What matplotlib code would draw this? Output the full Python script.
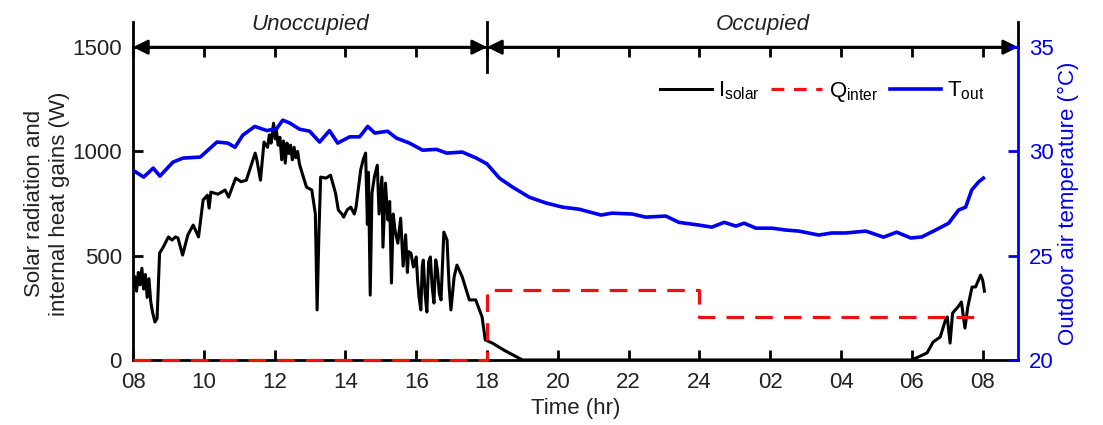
import numpy as np
import matplotlib.pyplot as plt
from matplotlib.lines import Line2D

plt.rcParams['font.family'] = ['Liberation Sans', 'DejaVu Sans']
plt.rcParams['mathtext.fontset'] = 'custom'
plt.rcParams['mathtext.rm'] = 'Liberation Sans'

# hours since 08:00 of day 1 (08 -> 8, next-day 08 -> 32)
solar_hr = [8.00, 8.05, 8.10, 8.15, 8.20, 8.25, 8.30, 8.35, 8.40, 8.45, 8.50, 8.55, 8.62, 8.68,
            8.75, 8.85, 9.00, 9.10, 9.20, 9.27, 9.40, 9.55, 9.70, 9.85, 9.98, 10.10, 10.15, 10.20,
            10.40, 10.60, 10.70, 10.90, 11.05, 11.20, 11.35, 11.45, 11.50, 11.60, 11.70, 11.80,
            11.85, 11.90, 11.97, 12.02, 12.05, 12.10, 12.15, 12.20, 12.25, 12.30, 12.35, 12.40,
            12.45, 12.50, 12.55, 12.60, 12.65, 12.70, 12.77,
            12.90, 13.05, 13.15, 13.20, 13.25, 13.30, 13.45, 13.58, 13.72, 13.80, 13.90, 13.95,
            14.05, 14.15, 14.25, 14.30, 14.43, 14.50, 14.57, 14.62, 14.65, 14.70, 14.75, 14.82,
            14.90, 14.95, 15.03, 15.06, 15.13, 15.20, 15.25, 15.30, 15.35, 15.40, 15.48, 15.56,
            15.63, 15.70, 15.75, 15.78, 15.85, 15.92, 16.00, 16.04, 16.08, 16.13, 16.17, 16.20,
            16.25, 16.30, 16.35, 16.40, 16.45, 16.50, 16.55, 16.60, 16.65, 16.70, 16.78, 16.87,
            16.93, 16.98, 17.07, 17.15, 17.30, 17.50, 17.68, 17.86,
            17.95, 18.15, 18.50, 19.00, 30.00, 30.43, 30.60, 30.80, 30.95, 31.00, 31.08, 31.15,
            31.30, 31.40, 31.50, 31.58, 31.70, 31.80, 31.94, 32.00, 32.05]
solar_w = [350, 400, 330, 420, 360, 440, 340, 410, 300, 390, 280, 230, 182, 200,
           512, 540, 590, 575, 590, 585, 503, 600, 647, 590, 767, 790, 728, 805,
           795, 815, 781, 872, 855, 862, 940, 992, 958, 862, 1045, 1020,
           1080, 1040, 1135, 1060, 1100, 1030, 1068, 960, 1050, 944, 1040, 990,
           1030, 960, 1020, 970, 1000, 940, 900,
           829, 815, 700, 240, 600, 877, 872, 886, 800, 719, 700, 685,
           720, 733, 700, 733, 910, 960, 992, 650, 900, 311, 800, 880,
           934, 700, 877, 541, 848, 671, 760, 369, 700, 623, 560, 680,
           450, 600, 420, 520, 512, 446, 494, 380, 300, 240, 450, 479,
           320, 230, 470, 494, 350, 273, 480, 431, 320, 288, 613, 575,
           350, 240, 398, 455, 398, 288, 288, 206,
           96, 81, 45, 0, 0, 34, 86, 110, 192, 206, 81, 225,
           254, 278, 153, 254, 350, 350, 407, 383, 330]

q_hr = [8, 18, 18, 24, 24, 32]
q_w = [0, 0, 335, 335, 205, 205]

t_hr = [8.00, 8.30, 8.57, 8.76, 9.13, 9.41, 9.90, 10.37, 10.68, 10.88, 11.10, 11.44, 11.78,
        12.06, 12.23, 12.43, 12.70, 12.99, 13.27, 13.55, 13.78, 14.12, 14.40, 14.63, 14.83,
        15.19, 15.44, 15.81, 16.18, 16.57, 16.86, 17.30, 17.70, 18.00, 18.35, 18.72, 19.20,
        19.68, 20.13, 20.60, 21.22, 21.53, 22.10, 22.48, 23.05, 23.42, 23.98, 24.35, 24.70,
        25.03, 25.26, 25.60, 26.05, 26.44, 26.81, 27.37, 27.74, 28.13, 28.70, 29.20, 29.57,
        29.97, 30.28, 30.67, 31.04, 31.32, 31.52, 31.69, 31.88, 32.02]
t_out = [29.10, 28.77, 29.20, 28.82, 29.49, 29.68, 29.73, 30.45, 30.40, 30.20, 30.78, 31.20, 31.00,
         31.10, 31.50, 31.36, 31.07, 30.97, 30.45, 31.00, 30.40, 30.70, 30.70, 31.20, 30.88,
         30.97, 30.64, 30.40, 30.06, 30.10, 29.92, 29.97, 29.68, 29.40, 28.72, 28.29, 27.80,
         27.52, 27.33, 27.23, 26.95, 27.04, 27.00, 26.85, 26.90, 26.60, 26.47, 26.37, 26.60,
         26.42, 26.56, 26.32, 26.32, 26.23, 26.18, 25.99, 26.09, 26.09, 26.18, 25.89, 26.13,
         25.85, 25.90, 26.23, 26.56, 27.19, 27.33, 28.15, 28.53, 28.72]

tick_hr = [8, 10, 12, 14, 16, 18, 20, 22, 24, 26, 28, 30, 32]
tick_lbl = ['08', '10', '12', '14', '16', '18', '20', '22', '24', '02', '04', '06', '08']

blue = '#0000ee'
red = '#ee1111'
fs = 16

fig = plt.figure(figsize=(11.03, 4.25), dpi=100)
ax = fig.add_axes([0.1206, 0.153, 0.8024, 0.736])
ax2 = ax.twinx()

ax.plot(solar_hr, solar_w, color='black', lw=2.2, zorder=3)
ax.plot(q_hr, q_w, color=red, lw=2.3, dashes=(5.5, 3.5), zorder=4, clip_on=False)
ax2.plot(t_hr, t_out, color=blue, lw=2.6)

ax.set_xlim(8, 33)
ax.set_ylim(0, 1500)
ax2.set_ylim(20, 35)
ax.set_xticks(tick_hr)
ax.set_xticklabels(tick_lbl)
ax.set_yticks([0, 500, 1000, 1500])
ax2.set_yticks([20, 25, 30, 35])

for s in ['left', 'bottom', 'top']:
    ax.spines[s].set_linewidth(2.0)
ax.spines['right'].set_visible(False)
for s in ['left', 'bottom', 'top']:
    ax2.spines[s].set_visible(False)
ax2.spines['right'].set_color(blue)
ax2.spines['right'].set_linewidth(2.0)

ax.tick_params(axis='both', direction='in', length=7, width=2, labelsize=fs,
               top=True, right=False, colors='black', labelcolor='#222222')
ax.tick_params(axis='x', pad=9)
ax.tick_params(axis='y', pad=8)
ax2.tick_params(axis='y', direction='in', length=7, width=2, labelsize=fs,
                colors=blue, pad=8)

ax.set_xlabel('Time (hr)', fontsize=fs, color='#222222', labelpad=3)
ax.set_ylabel('Solar radiation and\ninternal heat gains (W)', fontsize=fs, color='#222222',
              labelpad=2)
ax2.set_ylabel('Outdoor air temperature (\u00b0C)', fontsize=fs, color=blue, labelpad=3)

# occupancy markers above the plot
kw = dict(arrowstyle='<|-|>', color='black', lw=2, mutation_scale=22, shrinkA=0, shrinkB=0)
ax.annotate('', xy=(8, 1500), xytext=(18, 1500), arrowprops=kw, annotation_clip=False)
ax.annotate('', xy=(18, 1500), xytext=(33, 1500), arrowprops=kw, annotation_clip=False)
for xv in [8, 18, 33]:
    ax.plot([xv, xv], [1380 if xv == 18 else 1500, 1620], color='black', lw=2,
            clip_on=False, zorder=5)
ax.text(13, 1560, 'Unoccupied', fontsize=fs, style='italic', ha='center', va='bottom',
        color='#222222')
ax.text(25.8, 1560, 'Occupied', fontsize=fs, style='italic', ha='center', va='bottom',
        color='#222222')

handles = [Line2D([], [], color='black', lw=2.2),
           Line2D([], [], color=red, lw=2.3, dashes=(4, 3)),
           Line2D([], [], color=blue, lw=2.6)]
labels = [r'$\mathregular{I_{solar}}$', r'$\mathregular{Q_{inter}}$', r'$\mathregular{T_{out}}$']
ax2.legend(handles, labels, ncol=3, frameon=False, fontsize=fs, loc='upper right',
           bbox_to_anchor=(0.985, 0.96), handlelength=2.3, handletextpad=0.3,
           columnspacing=0.5)

plt.savefig('out.png', dpi=100)
